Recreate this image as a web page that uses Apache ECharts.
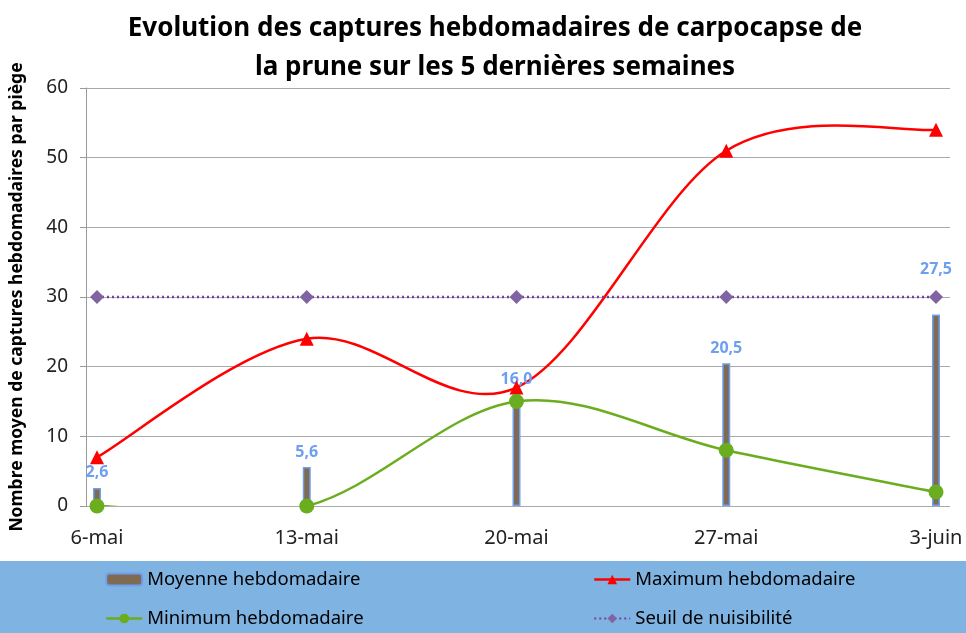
<!DOCTYPE html>
<html>
<head>
<meta charset="utf-8">
<script src="https://cdn.jsdelivr.net/npm/echarts@6/dist/echarts.min.js"></script>
<style>
  html, body { margin: 0; padding: 0; background: #fff; }
  #chart { width: 966px; height: 633px; }
</style>
</head>
<body>
<div id="chart"></div>
<script>
// données
var semaines = ['6-mai', '13-mai', '20-mai', '27-mai', '3-juin'];
var moyenne = [2.6, 5.6, 16.0, 20.5, 27.5];
var maximum = [7, 24, 17, 51, 54];
var minimum = [0, 0, 15, 8, 2];
var seuil = [30, 30, 30, 30, 30];
var yTicks = [0, 10, 20, 30, 40, 50, 60];

var chart = echarts.init(document.getElementById('chart'));

// courbe lissée façon Excel (Catmull-Rom), calculée en pixels via api.coord
function courbe(valeurs, couleur) {
  return {
    type: 'custom', xAxisIndex: 1, yAxisIndex: 1, clip: true, silent: true,
    data: valeurs.map(function (v, i) { return [i, v]; }),
    renderItem: function (params, api) {
      var i = params.dataIndex;
      if (i >= valeurs.length - 1) return null;
      var pt = function (k) {
        k = Math.max(0, Math.min(valeurs.length - 1, k));
        return api.coord([k, valeurs[k]]);
      };
      var p0 = pt(i - 1), p1 = pt(i), p2 = pt(i + 1), p3 = pt(i + 2);
      return {
        type: 'bezierCurve',
        shape: {
          x1: p1[0], y1: p1[1], x2: p2[0], y2: p2[1],
          cpx1: p1[0] + (p2[0] - p0[0]) / 6, cpy1: p1[1] + (p2[1] - p0[1]) / 6,
          cpx2: p2[0] - (p3[0] - p1[0]) / 6, cpy2: p2[1] - (p3[1] - p1[1]) / 6
        },
        style: { stroke: couleur, lineWidth: 2.5, fill: null }
      };
    }
  };
}

var legendText = { fontFamily: 'Noto Sans', fontSize: 18.5, color: '#000' };

chart.setOption({
  animation: false,
  title: {
    text: 'Evolution des captures hebdomadaires de carpocapse de\nla prune sur les 5 dernières semaines',
    left: 490, textAlign: 'center', top: 4,
    textStyle: { fontFamily: 'Noto Sans', fontWeight: 'bold', fontSize: 26, lineHeight: 39, color: '#000' }
  },
  graphic: [{
    type: 'rect', left: 0, top: 561, z: -1,
    shape: { width: 966, height: 72 },
    style: { fill: '#7fb3e2' }
  }],
  legend: [{
    orient: 'vertical', left: 105, top: 570, padding: 0, itemGap: 20,
    itemWidth: 36, itemHeight: 12,
    textStyle: legendText,
    data: ['Moyenne hebdomadaire',
      { name: 'Minimum hebdomadaire', lineStyle: { opacity: 1, color: '#6aad1e', width: 2.5 } }]
  }, {
    orient: 'vertical', left: 593, top: 570, padding: 0, itemGap: 20,
    itemWidth: 36, itemHeight: 12,
    textStyle: legendText,
    data: [{ name: 'Maximum hebdomadaire', lineStyle: { opacity: 1, color: '#ff0000', width: 2.5 } },
      'Seuil de nuisibilité']
  }],
  grid: [
    { left: 83, right: 16, top: 88, bottom: 127 },
    { left: 97, right: 30, top: 88, bottom: 127 }
  ],
  xAxis: [{
    gridIndex: 0, type: 'category', data: semaines, show: false
  }, {
    gridIndex: 1, type: 'category', data: semaines, boundaryGap: false,
    axisLine: { show: false }, axisTick: { show: false },
    axisLabel: { fontFamily: 'Noto Sans', fontSize: 20, color: '#222', margin: 22 }
  }],
  yAxis: [{
    gridIndex: 0, type: 'value', min: yTicks[0], max: yTicks[yTicks.length - 1], interval: 10,
    name: 'Nombre moyen de captures hebdomadaires par piège',
    nameLocation: 'middle', nameGap: 60,
    nameTextStyle: { fontFamily: 'Noto Sans', fontWeight: 'bold', fontSize: 17.5, color: '#000' },
    axisLine: { show: true, lineStyle: { color: '#999', width: 1 } },
    axisTick: { show: true, length: 6, lineStyle: { color: '#999' } },
    axisLabel: { fontFamily: 'Noto Sans', fontSize: 19, color: '#222', margin: 18 },
    splitLine: { lineStyle: { color: '#aaa', width: 1 } }
  }, {
    gridIndex: 1, type: 'value', min: 0, max: 60, interval: 10, show: false,
    splitLine: { show: false }
  }],
  series: [{
    name: 'Moyenne hebdomadaire', type: 'bar', xAxisIndex: 1, yAxisIndex: 1,
    data: moyenne, barWidth: 8,
    itemStyle: { color: '#7f6a52', borderColor: '#6f9ff0', borderWidth: 1.5 },
    label: {
      show: true, position: 'top', distance: 7,
      fontFamily: 'Noto Sans', fontWeight: 'bold', fontSize: 16, color: '#6d9ef0',
      formatter: function (p) { return p.value.toFixed(1).replace('.', ','); }
    },
    // la dernière étiquette est remontée au-dessus du seuil
    labelLayout: function (p) {
      return p.dataIndex === moyenne.length - 1 ? { dy: -30 } : {};
    }
  },
  courbe(maximum, '#ff0000'),
  courbe(minimum, '#6aad1e'),
  {
    name: 'Maximum hebdomadaire', type: 'line', xAxisIndex: 1, yAxisIndex: 1,
    data: maximum, symbol: 'triangle', symbolSize: 14,
    lineStyle: { color: '#ff0000', width: 2.5, opacity: 0 },
    itemStyle: { color: '#ff0000' }
  }, {
    name: 'Minimum hebdomadaire', type: 'line', xAxisIndex: 1, yAxisIndex: 1,
    data: minimum, symbol: 'circle', symbolSize: 15,
    lineStyle: { color: '#6aad1e', width: 2.5, opacity: 0 },
    itemStyle: { color: '#6aad1e' }
  }, {
    name: 'Seuil de nuisibilité', type: 'line', xAxisIndex: 1, yAxisIndex: 1,
    data: seuil, symbol: 'diamond', symbolSize: 14,
    lineStyle: { color: '#7a3fa0', width: 2.5, type: [2, 3] },
    itemStyle: { color: '#8064a2' }
  }]
});
</script>
</body>
</html>
